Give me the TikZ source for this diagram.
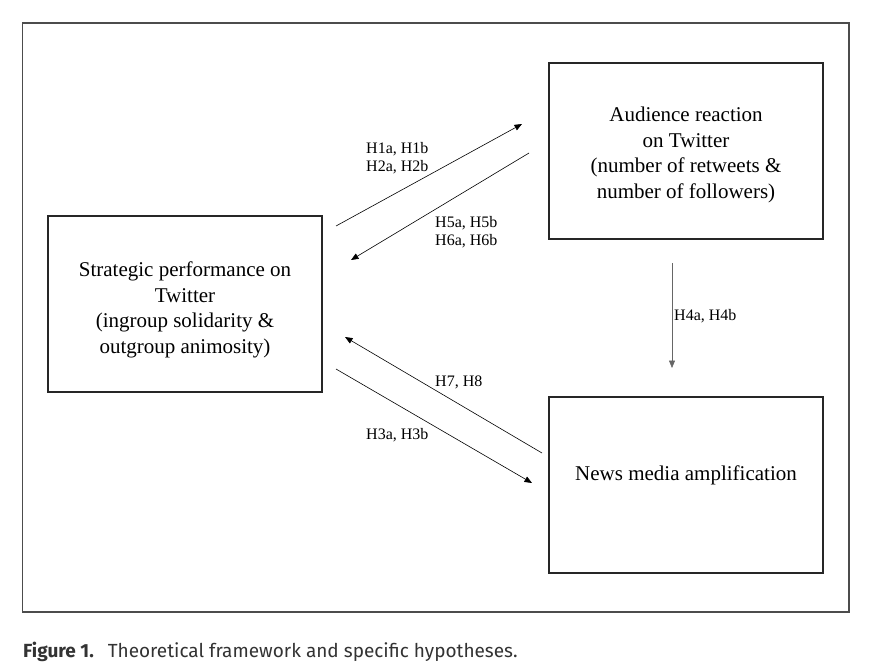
\documentclass[tikz,border=0pt]{standalone}
\usepackage{fontspec}
\setmainfont{Liberation Serif}
\newfontfamily\capfont{Fira Sans}
\usetikzlibrary{arrows.meta}
\begin{document}
\begin{tikzpicture}[x=1pt,y=-1pt,
  boxnode/.style={draw=black!85,line width=1.2pt,minimum width=274pt,minimum height=176pt,
    inner sep=0pt},
  boxtext/.style={inner sep=0pt,align=center,font=\fontsize{21}{25.7}\selectfont},
  conn/.style={draw=black,line width=0.6pt,-{Triangle[length=7.5pt,width=6pt]}},
  hlabel/.style={inner sep=0pt,anchor=west,align=left,font=\fontsize{16}{18}\selectfont}]
\useasboundingbox (0,0) rectangle (889,670);
\fill[white] (0,0) rectangle (889,670);
\draw[draw=black!70,line width=1.4pt] (22.5,23) rectangle (849,612);
\node[boxnode] (s) at (185,304) {};
\node[boxnode] (a) at (686,151) {};
\node[boxnode] (n) at (686,485) {};
\node[boxtext] (stxt) at ([yshift=-6pt]s.center) {Strategic performance on\\Twitter\\(ingroup solidarity \&\\outgroup animosity)};
\node[boxtext] (atxt) at ([yshift=-4pt]a.center) {Audience reaction\\on Twitter\\(number of retweets \&\\number of followers)};
\node[boxtext] (ntxt) at ([yshift=10pt]n.center) {News media amplification};
\coordinate (h1s) at (336,226);
\coordinate (h1e) at (522,124);
\coordinate (h5s) at (529,153);
\coordinate (h5e) at (351,260);
\coordinate (h7s) at (542,453);
\coordinate (h7e) at (345,337);
\coordinate (h3s) at (336,369);
\coordinate (h3e) at (532,483);
\coordinate (h4s) at (672,263);
\coordinate (h4e) at (672,368);
\draw[conn] (h1s) -- (h1e);
\draw[conn] (h5s) -- (h5e);
\draw[conn] (h7s) -- (h7e);
\draw[conn] (h3s) -- (h3e);
\draw[conn,draw=black!60] (h4s) -- (h4e);
\node[hlabel] (l1) at (366,158) {H1a, H1b\\H2a, H2b};
\node[hlabel] (l5) at (435,232) {H5a, H5b\\H6a, H6b};
\node[hlabel] (l7) at (435,382) {H7, H8};
\node[hlabel] (l3) at (366,435) {H3a, H3b};
\node[hlabel] (l4) at (674,316) {H4a, H4b};
\node[inner sep=0pt,anchor=base west,font=\capfont\fontsize{19}{21}\selectfont,text=black!80] (cap) at (23,657)
  {\textbf{Figure 1.}\hspace{14pt}Theoretical framework and specific hypotheses.};
\end{tikzpicture}
\end{document}
